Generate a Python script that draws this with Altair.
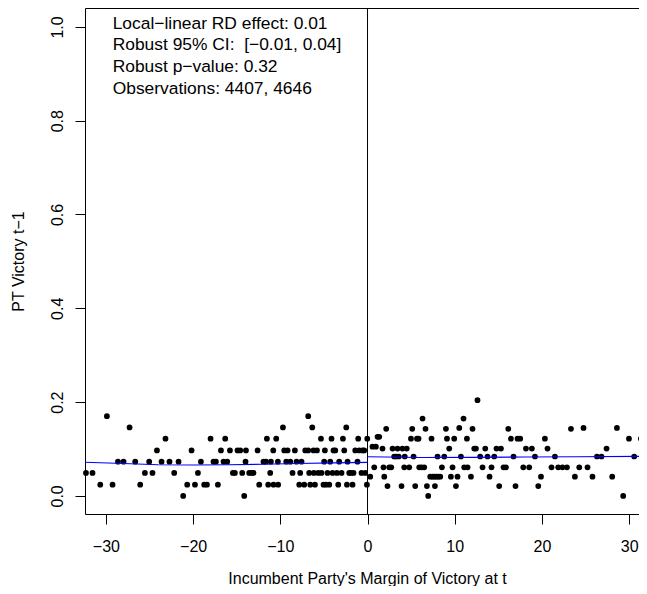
import altair as alt
import pandas as pd

# ---- data ----
left_margin = [-32.29, -31.54, -30.65, -29.89, -29.24, -28.62, -27.98, -27.29, -26.64, -26.07,
               -25.53, -25.04, -24.66, -24.15, -23.62, -23.17, -22.71, -22.17, -21.67, -21.14,
               -20.68, -20.18, -19.79, -19.45, -19.11, -18.73, -18.42, -18.00, -17.66, -17.39,
               -17.16, -16.81, -16.51, -16.32, -16.09, -15.78, -15.44, -15.21, -14.91, -14.60,
               -14.37, -14.14, -13.99, -13.94, -13.57, -13.30, -13.07, -12.61, -12.42, -11.93,
               -11.65, -11.54, -11.39, -11.16, -11.08, -10.81, -10.78, -10.47, -10.28, -10.25,
               -9.70, -9.55, -9.32, -9.17, -8.86, -8.60, -8.33, -8.14, -7.83, -7.72,
               -7.57, -7.26, -7.14, -6.80, -6.80, -6.69, -6.57, -6.34, -6.19, -6.15,
               -6.03, -5.80, -5.65, -5.34, -5.28, -5.05, -4.97, -4.89, -4.77, -4.59,
               -4.39, -4.28, -4.13, -4.01, -3.90, -3.70, -3.51, -3.36, -3.25, -2.98,
               -2.82, -2.67, -2.44, -2.36, -2.29, -2.10, -1.90, -1.72, -1.61, -1.41,
               -1.15, -1.07, -0.95, -0.69, -0.57, -0.38, -0.26, -0.07, -0.03]
left_share = [0.049, 0.049, 0.024, 0.170, 0.024, 0.073, 0.073, 0.146, 0.073, 0.024,
              0.049, 0.073, 0.049, 0.097, 0.073, 0.122, 0.073, 0.049, 0.073, 0.000,
              0.024, 0.097, 0.024, 0.049, 0.073, 0.024, 0.024, 0.122, 0.073, 0.073,
              0.024, 0.097, 0.073, 0.122, 0.073, 0.097, 0.049, 0.049, 0.097, 0.097,
              0.049, 0.000, 0.073, 0.097, 0.049, 0.049, 0.049, 0.097, 0.024, 0.073,
              0.073, 0.122, 0.024, 0.049, 0.073, 0.097, 0.024, 0.122, 0.073, 0.024,
              0.146, 0.097, 0.073, 0.097, 0.073, 0.049, 0.097, 0.073, 0.024, 0.049,
              0.073, 0.024, 0.097, 0.170, 0.097, 0.049, 0.024, 0.146, 0.097, 0.049,
              0.024, 0.097, 0.049, 0.122, 0.049, 0.024, 0.073, 0.097, 0.024, 0.049,
              0.024, 0.073, 0.122, 0.049, 0.097, 0.097, 0.049, 0.024, 0.073, 0.049,
              0.122, 0.097, 0.146, 0.024, 0.073, 0.049, 0.049, 0.024, 0.049, 0.097,
              0.073, 0.122, 0.097, 0.049, 0.097, 0.097, 0.049, 0.024, 0.122]

right_margin = [0.31, 0.57, 0.77, 0.96, 1.15, 1.34, 1.72, 1.83, 1.92, 2.14,
                2.29, 2.49, 2.72, 2.87, 3.06, 3.26, 3.44, 3.58, 3.90, 4.01,
                4.21, 4.27, 4.50, 4.78, 4.98, 5.13, 5.28, 5.47, 5.67, 5.85,
                5.93, 6.19, 6.31, 6.50, 6.65, 6.81, 6.96, 7.19, 7.34, 7.45,
                7.65, 7.73, 7.88, 8.03, 8.11, 8.34, 8.53, 8.80, 8.99, 9.11,
                9.37, 9.56, 9.75, 9.94, 10.14, 10.32, 10.52, 10.71, 11.01, 11.09,
                11.40, 11.47, 11.86, 12.04, 12.24, 12.43, 12.61, 12.92, 13.19, 13.50,
                13.76, 13.99, 14.22, 14.53, 14.79, 15.10, 15.30, 15.60, 15.87, 16.14,
                16.44, 16.74, 16.97, 17.20, 17.51, 17.86, 18.17, 18.54, 18.85, 19.20,
                19.58, 19.89, 20.34, 20.64, 21.10, 21.49, 21.87, 22.36, 22.87, 23.33,
                23.78, 24.28, 24.77, 25.23, 25.80, 26.31, 26.83, 27.41, 28.06, 28.60,
                29.32, 29.98, 30.58, 31.35, 32.00]
right_share = [0.041, 0.105, 0.061, 0.105, 0.126, 0.126, 0.101, 0.061, 0.041, 0.143,
               0.021, 0.061, 0.061, 0.101, 0.084, 0.084, 0.101, 0.084, 0.021, 0.101,
               0.061, 0.084, 0.101, 0.061, 0.122, 0.143, 0.084, 0.021, 0.122, 0.122,
               0.061, 0.061, 0.165, 0.061, 0.143, 0.021, 0.000, 0.041, 0.122, 0.041,
               0.041, 0.021, 0.041, 0.084, 0.041, 0.041, 0.061, 0.084, 0.143, 0.122,
               0.101, 0.041, 0.061, 0.122, 0.021, 0.041, 0.145, 0.084, 0.165, 0.061,
               0.122, 0.061, 0.041, 0.143, 0.101, 0.101, 0.204, 0.084, 0.061, 0.101,
               0.084, 0.041, 0.061, 0.084, 0.101, 0.021, 0.101, 0.061, 0.061, 0.143,
               0.122, 0.084, 0.021, 0.122, 0.122, 0.061, 0.101, 0.061, 0.101, 0.084,
               0.021, 0.041, 0.122, 0.101, 0.061, 0.084, 0.061, 0.061, 0.061, 0.143,
               0.041, 0.061, 0.145, 0.061, 0.041, 0.084, 0.084, 0.101, 0.041, 0.145,
               0.000, 0.122, 0.084, 0.122, 0.101]

fit_left_x = [-32.4, -28, -24, -20, -16, -12, -8, -4, 0]
fit_left_y = [0.0718, 0.0690, 0.0665, 0.0660, 0.0665, 0.0675, 0.0690, 0.0705, 0.0715]
fit_right_x = [0, 6, 12, 18, 24, 32.05]
fit_right_y = [0.0835, 0.0820, 0.0822, 0.0828, 0.0835, 0.0843]

cutoff = [0]
x_ticks = [-30, -20, -10, 0, 10, 20, 30]
y_ticks = [0.0, 0.2, 0.4, 0.6, 0.8, 1.0]
x_title = "Incumbent Party's Margin of Victory at t"
y_title = "PT Victory t\u22121"
annotation = [
    "Local\u2212linear RD effect: 0.01",
    "Robust 95% CI:\u00a0 [\u22120.01, 0.04]",
    "Robust p\u2212value: 0.32",
    "Observations: 4407, 4646",
]

FONT = "Liberation Sans"
X_DOMAIN = [-32.4, 32.05]
Y_DOMAIN = [-0.0386, 1.0403]

pts = pd.DataFrame({"margin": left_margin + right_margin,
                    "share": left_share + right_share})
fitl = pd.DataFrame({"margin": fit_left_x, "share": fit_left_y})
fitr = pd.DataFrame({"margin": fit_right_x, "share": fit_right_y})
cut = pd.DataFrame({"margin": cutoff})

xs = alt.Scale(domain=X_DOMAIN, nice=False, zero=False)
ys = alt.Scale(domain=Y_DOMAIN, nice=False, zero=False)

xaxis = alt.Axis(values=x_ticks, title=x_title, labelFlush=False, labelOverlap=False,
                 labelBaseline="alphabetic", labelPadding=27,
                 titleX=282, titleY=69, titleAlign="center", titleBaseline="alphabetic")
yaxis = alt.Axis(values=y_ticks, format=".1f", title=y_title, labelFlush=False,
                 labelOverlap=False, labelAngle=270, labelAlign="center",
                 labelBaseline="alphabetic", labelPadding=12.3,
                 titleAngle=270, titleX=-61.8, titleY=253, titleAlign="center",
                 titleBaseline="alphabetic")

points = alt.Chart(pts).mark_circle(size=33, color="black", opacity=1).encode(
    x=alt.X("margin:Q", scale=xs, axis=xaxis),
    y=alt.Y("share:Q", scale=ys, axis=yaxis),
)
line_l = alt.Chart(fitl).mark_line(color="#0000FF", strokeWidth=1.1).encode(
    x=alt.X("margin:Q", scale=xs),
    y=alt.Y("share:Q", scale=ys),
)
line_r = alt.Chart(fitr).mark_line(color="#0000FF", strokeWidth=1.1).encode(
    x=alt.X("margin:Q", scale=xs),
    y=alt.Y("share:Q", scale=ys),
)
rule = alt.Chart(cut).mark_rule(color="black", strokeWidth=1).encode(
    x=alt.X("margin:Q", scale=xs),
)
text = alt.Chart(pd.DataFrame({"a": [0]})).mark_text(
    text=annotation, align="left", baseline="alphabetic", fontSize=17.4,
    lineHeight=21.7, font=FONT, color="black",
).encode(x=alt.value(27.7), y=alt.value(20.8))

chart = alt.layer(points, rule, line_l, line_r, text).properties(
    width=562, height=506,
    padding={"left": 77, "top": 0, "right": -8, "bottom": 72},
    autosize=alt.AutoSizeParams(type="none"),
    background="white",
).configure_view(stroke="black", strokeWidth=1).configure_axis(
    grid=False, domain=False, tickColor="black", tickSize=10, tickWidth=1,
    labelFont=FONT, labelFontSize=16, labelColor="black",
    titleFont=FONT, titleFontSize=16, titleFontWeight="normal", titleColor="black",
)

chart.save("out.html", embed_options={"renderer": "svg", "actions": False})
